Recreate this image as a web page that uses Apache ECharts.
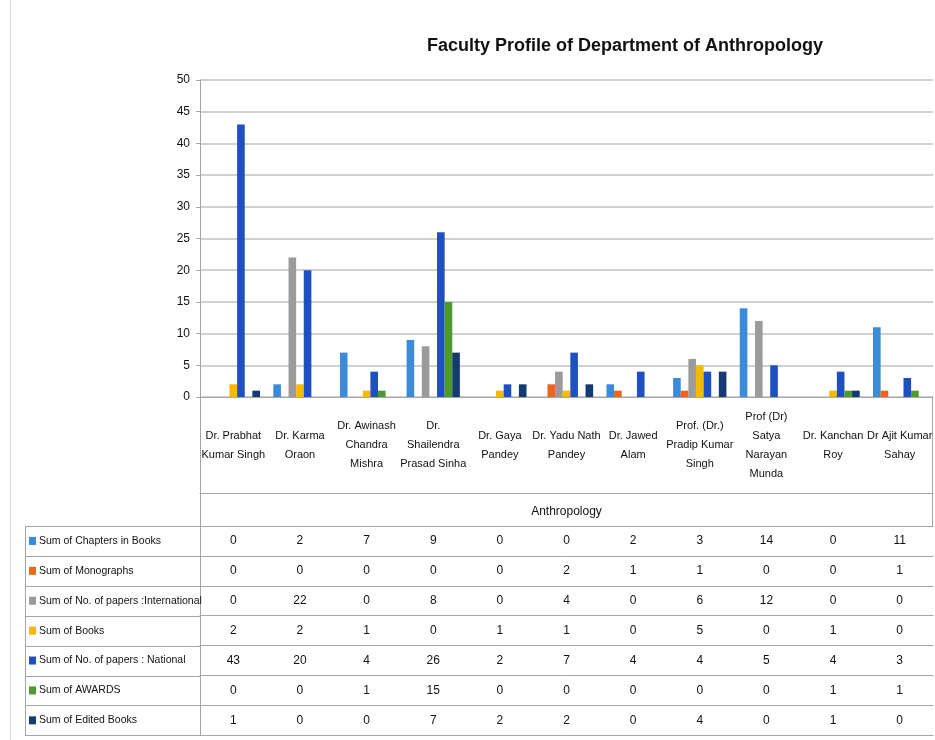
<!DOCTYPE html>
<html>
<head>
<meta charset="UTF-8"/>
<script src="https://cdn.jsdelivr.net/npm/echarts@6/dist/echarts.min.js"></script>
<style>
  html, body { margin: 0; padding: 0; background: #fff; }
  #main { width: 935px; height: 740px; }
</style>
</head>
<body>
<div id="main"></div>
<script type="text/javascript">
// faculty names (x categories)
var categories = [
  'Dr. Prabhat\nKumar Singh', 'Dr. Karma\nOraon', 'Dr. Awinash\nChandra\nMishra',
  'Dr.\nShailendra\nPrasad Sinha', 'Dr. Gaya\nPandey', 'Dr. Yadu Nath\nPandey',
  'Dr. Jawed\nAlam', 'Prof. (Dr.)\nPradip Kumar\nSingh', 'Prof (Dr)\nSatya\nNarayan\nMunda',
  'Dr. Kanchan\nRoy', 'Dr Ajit Kumar\nSahay'
];
var seriesNames = [
  'Sum of Chapters in Books', 'Sum of Monographs', 'Sum of No. of papers :International',
  'Sum of Books', 'Sum of No. of papers : National', 'Sum of AWARDS', 'Sum of Edited Books'
];
var chapters      = [0, 2, 7, 9, 0, 0, 2, 3, 14, 0, 11];
var monographs    = [0, 0, 0, 0, 0, 2, 1, 1, 0, 0, 1];
var international = [0, 22, 0, 8, 0, 4, 0, 6, 12, 0, 0];
var books         = [2, 2, 1, 0, 1, 1, 0, 5, 0, 1, 0];
var national      = [43, 20, 4, 26, 2, 7, 4, 4, 5, 4, 3];
var awards        = [0, 0, 1, 15, 0, 0, 0, 0, 0, 1, 1];
var editedBooks   = [1, 0, 0, 7, 2, 2, 0, 4, 0, 1, 0];
var colors = ['#3b8bd8', '#e8661e', '#9b9b9b', '#f5b900', '#1f50c0', '#4f9a2c', '#143a72'];

var rows = [chapters, monographs, international, books, national, awards, editedBooks];

var FONT = '"Liberation Sans Narrow", "Liberation Sans", sans-serif';
var gridLeft = 200, gridTop = 80, gridW = 733, gridH = 317;
var nameRowH = 96, deptRowH = 33, rowH = 29.9;
var lineColor = '#a6a6a6';
var textColor = '#111';

var xAxes = [];
// names row
xAxes.push({
  type: 'category', data: categories, position: 'bottom',
  axisLine: { lineStyle: { color: lineColor } },
  axisTick: { length: nameRowH, lineStyle: { color: lineColor } },
  axisLabel: { interval: 0, margin: nameRowH / 2, verticalAlign: 'middle', lineHeight: 19,
               fontSize: 11, color: textColor, fontFamily: FONT, hideOverlap: false }
});
// department row
xAxes.push({
  type: 'category', data: categories, position: 'bottom', offset: nameRowH,
  axisLine: { lineStyle: { color: lineColor } }, axisTick: { show: false }, axisLabel: { show: false },
  name: 'Anthropology', nameLocation: 'middle', nameGap: 13,
  nameTextStyle: { fontSize: 12, color: textColor, fontFamily: FONT }
});
// data table rows
rows.forEach(function (row, i) {
  xAxes.push({
    type: 'category', data: categories, position: 'bottom', offset: nameRowH + deptRowH + i * rowH,
    axisLine: { lineStyle: { color: lineColor } },
    axisTick: { length: rowH, lineStyle: { color: lineColor } },
    axisLabel: { interval: 0, margin: rowH / 2, verticalAlign: 'middle', fontSize: 12, color: textColor,
                 fontFamily: FONT, formatter: function (v, idx) { return String(row[idx]); } }
  });
});
// bottom border of table
xAxes.push({
  type: 'category', data: categories, position: 'bottom', offset: nameRowH + deptRowH + rows.length * rowH,
  axisLine: { lineStyle: { color: lineColor } }, axisTick: { show: false }, axisLabel: { show: false }
});

// table frame lines (left header column + outer borders)
var tableTop = gridTop + gridH;
var rowsTop = tableTop + nameRowH + deptRowH;
var rowsBottom = rowsTop + rows.length * rowH;
var frame = [];
function vline(x, y1, y2, c) {
  frame.push({ type: 'line', shape: { x1: x, y1: y1, x2: x, y2: y2 }, style: { stroke: c || lineColor, lineWidth: 1 } });
}
function hline(y, x1, x2) {
  frame.push({ type: 'line', shape: { x1: x1, y1: y, x2: x2, y2: y }, style: { stroke: lineColor, lineWidth: 1 } });
}
vline(gridLeft + 0.5, tableTop, rowsTop);
vline(gridLeft + gridW - 0.5, tableTop, rowsTop);
vline(25.5, rowsTop, rowsBottom);
vline(gridLeft + 0.5, rowsTop, rowsBottom);
for (var k = 0; k <= rows.length; k++) hline(Math.round(rowsTop + k * rowH) + 0.5, 25, gridLeft);
vline(10.5, 0, 740, '#dcdcdc');

var option = {
  backgroundColor: '#fff',
  animation: false,
  color: colors,
  title: {
    text: 'Faculty Profile of Department of Anthropology',
    left: 422, top: 32,
    textStyle: { fontSize: 18, fontWeight: 'bold', color: textColor, fontFamily: FONT }
  },
  legend: {
    data: seriesNames, orient: 'vertical', left: 29, top: rowsTop + rowH / 2 - 7,
    icon: 'rect', itemWidth: 7, itemHeight: 8, itemGap: rowH - 14, padding: 0,
    textStyle: { fontSize: 10.5, lineHeight: 14, color: textColor, fontFamily: FONT, padding: [0, 0, 0, -2] }
  },
  grid: { left: gridLeft, top: gridTop, width: gridW, height: gridH, outerBoundsMode: 'none' },
  xAxis: xAxes,
  yAxis: {
    type: 'value', min: 0, max: 50, interval: 5,
    axisLine: { show: true, lineStyle: { color: lineColor } },
    axisTick: { show: true, length: 4, lineStyle: { color: lineColor } },
    axisLabel: { fontSize: 12, color: textColor, margin: 10, fontFamily: FONT },
    splitLine: { lineStyle: { color: '#c2c2c2', width: 1.5 } }
  },
  graphic: frame,
  series: seriesNames.map(function (name, i) {
    return { name: name, type: 'bar', xAxisIndex: 0, data: rows[i],
             barGap: '0%', barCategoryGap: '20%', itemStyle: { color: colors[i] } };
  })
};

var myChart = echarts.init(document.getElementById('main'));
myChart.setOption(option);
</script>
</body>
</html>
